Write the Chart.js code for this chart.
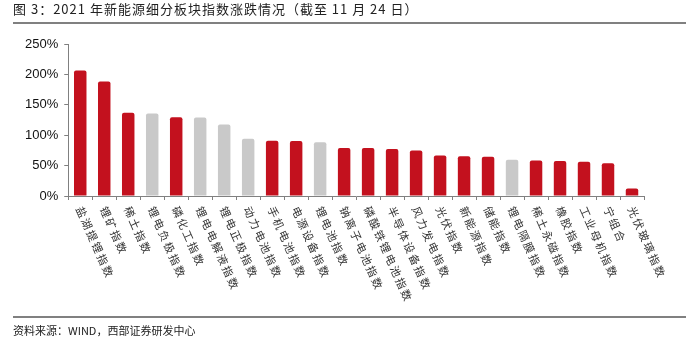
<!DOCTYPE html>
<html>
<head>
<meta charset="utf-8">
<script src="https://cdn.jsdelivr.net/npm/chart.js@4"></script>
<style>
  html, body { margin: 0; padding: 0; background: #fff; }
  #wrap { position: relative; width: 689px; height: 351px; overflow: hidden; }
  #myChart { position: absolute; left: 0; top: 0; }
  .title { position: absolute; left: 13px; top: -1px; font: 13px "Noto Sans CJK SC", sans-serif; letter-spacing: 1px; color: #222; white-space: nowrap; }
  .rule { position: absolute; left: 13px; width: 673px; height: 2px; background: #808080; }
  .source { position: absolute; left: 13px; top: 322px; font: 11px "Noto Sans CJK SC", sans-serif; color: #222; white-space: nowrap; }
</style>
</head>
<body>
<div id="wrap">
  <canvas id="myChart" width="689" height="351"></canvas>
  <div class="title">图 3：2021 年新能源细分板块指数涨跌情况（截至 11 月 24 日）</div>
  <div class="rule" style="top:22px"></div>
  <div class="rule" style="top:316px"></div>
  <div class="source">资料来源：WIND，西部证券研发中心</div>
</div>
<script>
var categories = ['盐湖提锂指数', '锂矿指数', '稀土指数', '锂电负极指数', '磷化工指数',
  '锂电电解液指数', '锂电正极指数', '动力电池指数', '手机电池指数', '电源设备指数',
  '锂电池指数', '钠离子电池指数', '磷酸铁锂电池指数', '半导体设备指数', '风力发电指数',
  '光伏指数', '新能源指数', '储能指数', '锂电隔膜指数', '稀土永磁指数',
  '橡胶指数', '工业母机指数', '宁组合', '光伏玻璃指数'];

// 涨跌幅 (%)
var changes = [206.5, 188.5, 137, 135.5, 129.5,
  129, 117.5, 94, 91, 90.5,
  88.5, 79, 79, 77.5, 75,
  66.5, 65.5, 64.5, 59.5, 58.5,
  57.5, 56.5, 54, 12.5];

// categories drawn in grey
var greyCategories = ['锂电负极指数', '锂电电解液指数', '锂电正极指数', '动力电池指数',
  '锂电池指数', '锂电隔膜指数'];

var yTicks = [0, 50, 100, 150, 200, 250];

var barColors = categories.map(function (c) {
  return greyCategories.indexOf(c) >= 0 ? '#c9c9c9' : '#c3111e';
});

// rotated category labels, starting at the tick and running down-right
var slantLabels = {
  id: 'slantLabels',
  afterDraw: function (chart) {
    var ctx = chart.ctx;
    var xs = chart.scales.x;
    ctx.save();
    ctx.font = '11px "Noto Sans CJK SC", sans-serif';
    ctx.letterSpacing = '2px';
    ctx.fillStyle = '#333';
    ctx.textAlign = 'left';
    ctx.textBaseline = 'middle';
    categories.forEach(function (label, i) {
      var x = xs.getPixelForTick(i);
      ctx.save();
      ctx.translate(x - 1, xs.top + 11);
      ctx.rotate(66 * Math.PI / 180);
      ctx.fillText(label, 0, 0);
      ctx.restore();
    });
    ctx.restore();
  }
};

var ctx = document.getElementById('myChart').getContext('2d');

var chart = new Chart(ctx, {
  type: 'bar',
  data: {
    labels: categories,
    datasets: [{
      data: changes,
      backgroundColor: barColors,
      borderRadius: 2,
      borderSkipped: 'bottom',
      barPercentage: 0.52,
      categoryPercentage: 1
    }]
  },
  options: {
    responsive: false,
    animation: false,
    layout: { padding: { left: 19, right: 45, top: 44, bottom: 151 } },
    plugins: {
      legend: { display: false },
      tooltip: { enabled: false }
    },
    scales: {
      x: {
        ticks: { display: false },
        grid: { drawOnChartArea: false, drawTicks: true, tickLength: 4, color: '#808080', offset: true },
        border: { display: true, color: '#808080', width: 1 }
      },
      y: {
        min: 0,
        max: 250,
        afterBuildTicks: function (axis) {
          axis.ticks = yTicks.map(function (v) { return { value: v }; });
        },
        ticks: {
          color: '#111',
          font: { family: 'Liberation Sans, Arial, sans-serif', size: 13 },
          padding: 6,
          callback: function (v) { return v + '%'; }
        },
        grid: { drawOnChartArea: false, drawTicks: true, tickLength: 4, color: '#808080' },
        border: { display: true, color: '#808080', width: 1 }
      }
    }
  },
  plugins: [slantLabels]
});
</script>
</body>
</html>
